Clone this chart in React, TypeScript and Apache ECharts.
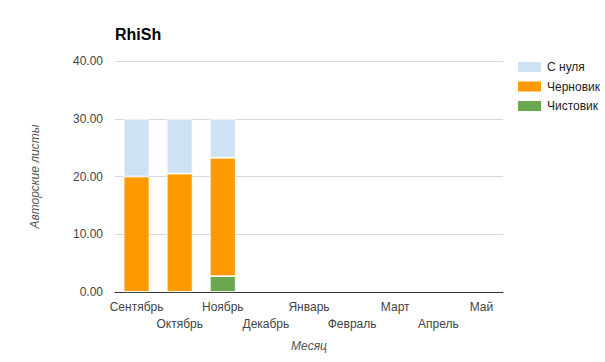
import React, { useEffect, useRef } from "react";
import * as echarts from "echarts";

const months = ["Сентябрь", "Октябрь", "Ноябрь", "Декабрь", "Январь", "Февраль", "Март", "Апрель", "Май"];
const cleanCopy = [0, 0, 2.75, 0, 0, 0, 0, 0, 0]; // Чистовик
const draft = [20, 20.5, 20.5, 0, 0, 0, 0, 0, 0]; // Черновик
const fromScratch = [10, 9.5, 6.75, 0, 0, 0, 0, 0, 0]; // С нуля
const yTicks = [0, 10, 20, 30, 40];

const FONT = "Arial, 'Liberation Sans', sans-serif";

const nz = (arr: number[]) => arr.map((v) => (v === 0 ? null : v));

export default function App() {
  const ref = useRef<HTMLDivElement>(null);
  useEffect(() => {
    if (!ref.current) return;
    const chart = echarts.init(ref.current, undefined, { renderer: "svg" });
    const barStyle = (color: string) => ({ color, borderColor: "#ffffff", borderWidth: 0.8 });
    chart.setOption({
      animation: false,
      textStyle: { fontFamily: FONT },
      title: {
        text: "RhiSh",
        left: 110,
        top: 21,
        textStyle: { fontFamily: FONT, fontSize: 16, fontWeight: "bold", color: "#000" },
      },
      legend: {
        orient: "vertical",
        left: 516,
        top: 60,
        padding: 0,
        itemWidth: 25,
        itemHeight: 12,
        itemGap: 5.5,
        icon: "rect",
        data: ["С нуля", "Черновик", "Чистовик"],
        textStyle: { fontFamily: FONT, fontSize: 12, color: "#222" },
      },
      grid: { left: 115, right: 102, top: 61, bottom: 70, containLabel: false },
      xAxis: {
        type: "category",
        data: months,
        name: "Месяц",
        nameLocation: "middle",
        nameGap: 48,
        nameTextStyle: { fontFamily: FONT, fontSize: 12, fontStyle: "italic", color: "#555" },
        axisLine: { lineStyle: { color: "#333", width: 1 } },
        axisTick: { show: false },
        axisLabel: {
          interval: 0,
          fontFamily: FONT,
          fontSize: 12,
          color: "#444",
          lineHeight: 17,
          margin: 6,
          formatter: (v: string, i: number) => (i % 2 ? "\n" + v : v),
        },
      },
      yAxis: {
        type: "value",
        min: yTicks[0],
        max: yTicks[yTicks.length - 1],
        interval: 10,
        name: "Авторские листы",
        nameLocation: "middle",
        nameGap: 74,
        nameTextStyle: { fontFamily: FONT, fontSize: 12, fontStyle: "italic", color: "#555" },
        axisLine: { show: false },
        axisTick: { show: false },
        splitLine: { lineStyle: { color: "#d9d9d9" } },
        axisLabel: {
          fontFamily: FONT,
          fontSize: 12,
          color: "#444",
          margin: 12,
          formatter: (v: number) => v.toFixed(2),
        },
      },
      series: [
        { name: "Чистовик", type: "bar", stack: "t", data: nz(cleanCopy), barWidth: "60%", itemStyle: barStyle("#6aa84f") },
        { name: "Черновик", type: "bar", stack: "t", data: nz(draft), barWidth: "60%", itemStyle: barStyle("#ff9900") },
        { name: "С нуля", type: "bar", stack: "t", data: nz(fromScratch), barWidth: "60%", itemStyle: barStyle("#cfe2f3") },
      ],
    });
    return () => chart.dispose();
  }, []);
  return <div ref={ref} style={{ width: 605, height: 362, position: "absolute", left: 0, top: 0 }} />;
}
